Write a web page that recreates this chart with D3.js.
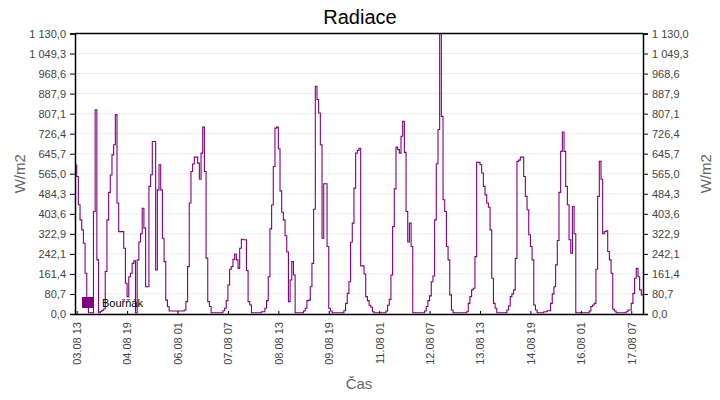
<!DOCTYPE html>
<html>
<head>
<meta charset="utf-8">
<style>
  body { margin: 0; background: #fff; }
  svg { display: block; font-family: "Liberation Sans", Arial, sans-serif; }
  .grid line { stroke: #ebebeb; }
  .axis text { fill: #444; font-size: 11px; }
  .axis path, .axis line { stroke: #000; }
</style>
</head>
<body>
<div id="chart"></div>
<script src="https://cdn.jsdelivr.net/npm/d3@7/dist/d3.min.js"></script>
<script>
// hourly values W/m2, first reading 03.08 12:00
var startTime = "03.08 12";
var values = [
  600, 554, 440, 379, 339, 285, 164, 30, 5, 5,
  5, 413, 823, 218, 5, 10, 15, 20, 171, 379,
  490, 560, 641, 682, 803, 447, 332, 332, 332, 265,
  124, 70, 150, 164, 204, 214, 5, 218, 290, 323,
  426, 346, 110, 110, 514, 561, 695, 695, 177, 500,
  601, 500, 305, 211, 56, 30, 12, 12, 12, 12,
  12, 12, 12, 12, 12, 16, 50, 191, 447, 574,
  604, 632, 632, 608, 543, 648, 753, 574, 225, 50,
  30, 5, 5, 5, 5, 5, 5, 5, 13, 23,
  54, 117, 180, 191, 220, 242, 218, 184, 265, 301,
  299, 299, 175, 50, 36, 5, 5, 5, 5, 5,
  5, 9, 9, 23, 54, 150, 343, 439, 594, 749,
  753, 666, 496, 410, 379, 315, 250, 50, 137, 211,
  157, 5, 5, 5, 5, 5, 12, 23, 54, 56,
  110, 204, 422, 917, 864, 810, 682, 305, 525, 525,
  272, 23, 12, 5, 5, 5, 5, 5, 5, 5,
  13, 43, 83, 130, 289, 366, 507, 648, 659, 668,
  194, 194, 161, 70, 54, 35, 27, 9, 5, 5,
  5, 5, 5, 5, 5, 12, 35, 59, 157, 352,
  504, 673, 662, 648, 716, 776, 651, 413, 290, 366,
  272, 5, 5, 5, 5, 5, 5, 5, 12, 30,
  54, 73, 130, 153, 379, 605, 743, 1130, 796, 460,
  413, 272, 218, 77, 16, 5, 5, 5, 5, 5,
  5, 5, 5, 9, 43, 70, 97, 104, 231, 611,
  611, 601, 568, 514, 480, 447, 430, 339, 144, 43,
  23, 5, 5, 5, 5, 5, 5, 16, 32, 70,
  81, 97, 224, 615, 620, 632, 632, 554, 474, 420,
  319, 272, 218, 36, 16, 5, 5, 5, 5, 9,
  9, 13, 13, 43, 81, 110, 198, 296, 490, 655,
  733, 655, 514, 440, 299, 245, 433, 323, 5, 5,
  5, 5, 5, 5, 5, 5, 12, 30, 36, 43,
  180, 474, 615, 543, 323, 332, 335, 252, 218, 164,
  19, 12, 5, 5, 5, 5, 5, 5, 9, 16,
  16, 43, 83, 144, 184, 150, 97, 77, 77
];
var xTickLabels = ["03.08 13", "04.08 19", "06.08 01", "07.08 07", "08.08 13", "09.08 19",
                   "11.08 01", "12.08 07", "13.08 13", "14.08 19", "16.08 01", "17.08 07"];
var yMax = 1130;
var yTickCount = 14;
var seriesName = "Bouřňák";

var margin = {top: 33.5, right: 77, bottom: 86, left: 75},
    width = 720 - margin.left - margin.right,
    height = 400 - margin.top - margin.bottom;

var parse = function(s){ return d3.timeParse("%Y %d.%m %H")("2019 " + s); };
var t0 = parse(startTime);
var data = values.map(function(v, i){ return {t: d3.timeHour.offset(t0, i), v: v}; });

var locale = d3.formatLocale({decimal: ",", thousands: " ", grouping: [3], currency: ["", ""]});
var fmt = locale.format(",.1f");

var x = d3.scaleTime()
  .domain(d3.extent(data, function(d){ return d.t; }))
  .range([0, width]);
var y = d3.scaleLinear().domain([0, yMax]).range([height, 0]);
var yTicks = d3.range(yTickCount + 1).map(function(i){ return yMax * i / yTickCount; });

var svg = d3.select("#chart").append("svg")
  .attr("width", 720).attr("height", 400);
var g = svg.append("g")
  .attr("transform", "translate(" + margin.left + "," + margin.top + ")");

// horizontal grid
g.append("g").attr("class", "grid")
  .selectAll("line").data(yTicks).enter().append("line")
  .attr("x1", 0).attr("x2", width)
  .attr("y1", function(d){ return y(d); }).attr("y2", function(d){ return y(d); });

// series
g.append("path")
  .datum(data)
  .attr("fill", "none")
  .attr("stroke", "#800080")
  .attr("stroke-width", 1.1)
  .attr("d", d3.line()
    .x(function(d){ return x(d.t); })
    .y(function(d){ return y(d.v); })
    .curve(d3.curveStepAfter));

// axes
var yLeft = d3.axisLeft(y).tickValues(yTicks).tickFormat(fmt).tickSize(5).tickPadding(4);
var yRight = d3.axisRight(y).tickValues(yTicks).tickFormat(fmt).tickSize(5).tickPadding(4);
g.append("g").attr("class", "axis").call(yLeft);
g.append("g").attr("class", "axis").attr("transform", "translate(" + width + ",0)").call(yRight);

var xAxis = d3.axisBottom(x)
  .tickValues(xTickLabels.map(parse))
  .tickFormat(d3.timeFormat("%d.%m %H"))
  .tickSizeInner(-3).tickSizeOuter(0);
var gx = g.append("g").attr("class", "axis")
  .attr("transform", "translate(0," + height + ")").call(xAxis);
gx.selectAll("text")
  .attr("transform", "rotate(-90)")
  .attr("text-anchor", "end")
  .attr("x", -8).attr("y", 0).attr("dy", "0.35em");

g.selectAll(".axis .domain").attr("stroke-width", 1.5);
g.append("line").attr("x1", 0).attr("x2", width).attr("y1", 0).attr("y2", 0)
  .attr("stroke", "#000").attr("stroke-width", 1.5);

// title and axis labels
svg.append("text").attr("x", 360).attr("y", 24).attr("text-anchor", "middle")
  .style("font-size", "20px").attr("fill", "#000").text("Radiace");
svg.append("text").attr("x", margin.left + width / 2).attr("y", 389).attr("text-anchor", "middle")
  .style("font-size", "15px").attr("fill", "#666").text("Čas");
svg.append("text").attr("transform", "translate(25," + (margin.top + height / 2) + ") rotate(-90)")
  .attr("text-anchor", "middle").style("font-size", "15px").attr("fill", "#666").text("W/m2");
svg.append("text").attr("transform", "translate(711," + (margin.top + height / 2) + ") rotate(-90)")
  .attr("text-anchor", "middle").style("font-size", "15px").attr("fill", "#666").text("W/m2");

// legend
var lg = g.append("g").attr("transform", "translate(7," + (height - 17) + ")");
lg.append("rect").attr("width", 11).attr("height", 11).attr("fill", "#800080");
lg.append("text").attr("x", 20).attr("y", 10).style("font-size", "11px").attr("fill", "#000").text(seriesName);
</script>
</body>
</html>
